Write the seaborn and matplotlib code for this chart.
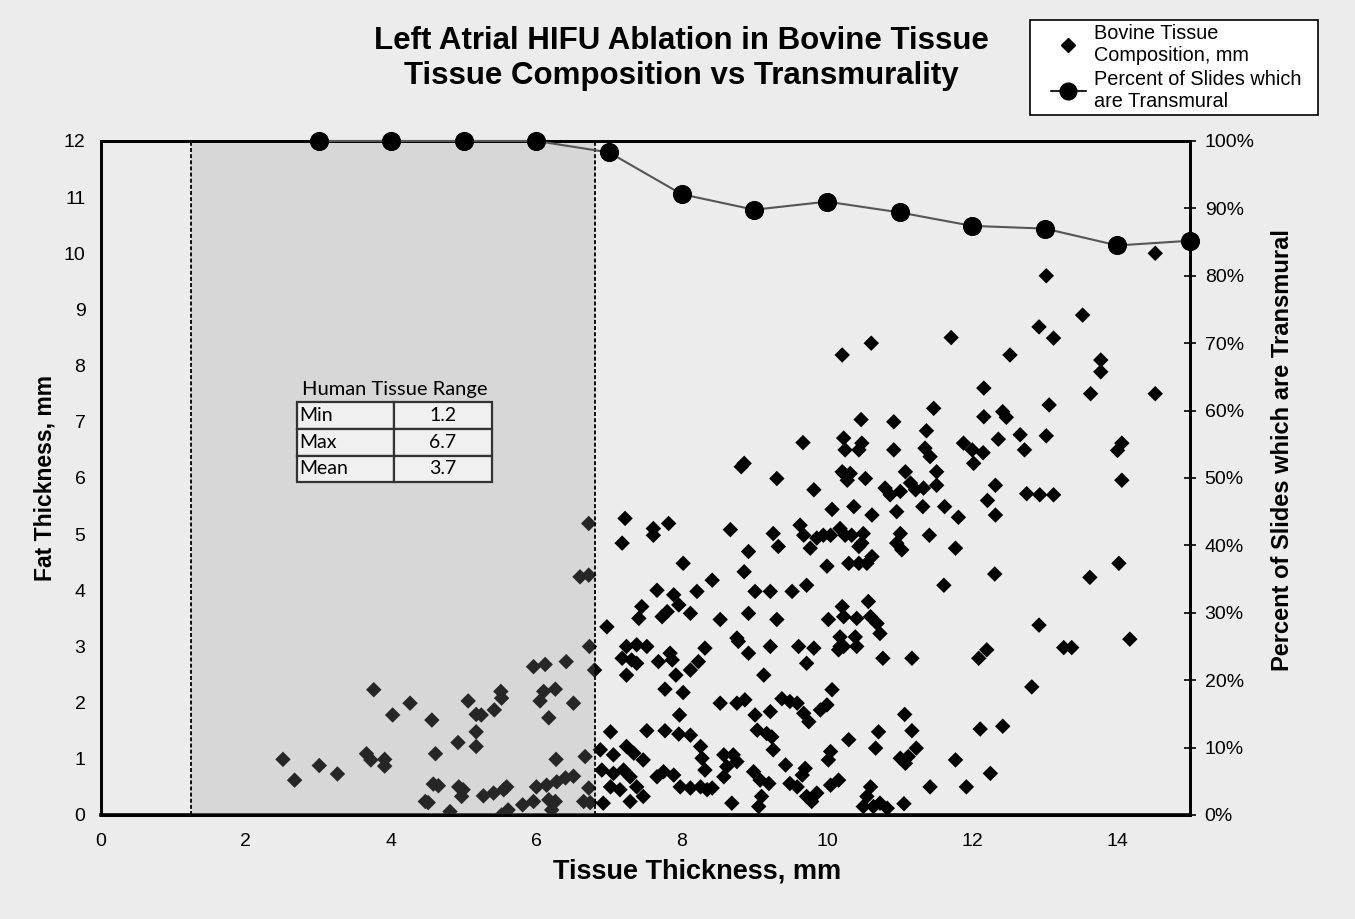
import numpy as np
import pandas as pd
import matplotlib
matplotlib.use("Agg")
import matplotlib.pyplot as plt
import seaborn as sns
from matplotlib.lines import Line2D
from matplotlib.patches import Rectangle
from matplotlib.ticker import PercentFormatter

# ---------------- data ----------------
tissue_x = [
    # inside the human range band
    2.51, 2.67, 3.01, 3.26, 3.66, 3.72, 3.91, 3.91, 3.76, 4.02, 4.26, 4.56, 4.61, 4.58, 4.65,
    4.47, 4.51, 4.81, 4.92, 4.93, 4.99, 4.97, 5.06, 5.17, 5.17, 5.17, 5.24, 5.42, 5.51, 5.52,
    5.27, 5.41, 5.55, 5.59, 5.52, 5.61, 5.81, 5.96, 5.96, 6.12, 6.41, 6.10, 6.26, 6.05, 6.17,
    6.51, 6.73, 6.80, 6.60, 6.72, 6.72, 6.27, 6.00, 6.14, 6.28, 6.40, 6.51, 6.26, 6.21, 6.67,
    6.72, 6.65, 6.74, 6.17,
    # beyond the band
    7.02, 6.97,
    7.24, 7.38, 7.52, 7.18, 7.31, 7.38, 7.68, 7.84, 7.87, 7.24, 8.12, 8.23, 8.32, 7.77, 8.02,
    7.92, 7.97, 7.52, 7.77, 7.96, 8.12, 6.88, 7.06, 7.24, 7.34, 7.47, 6.90, 7.06, 7.20, 7.29,
    7.02, 7.15, 7.38, 7.47, 7.29, 6.92, 7.66, 7.75, 7.89, 7.98, 8.12, 8.26, 8.35, 8.42, 8.26,
    8.28, 8.32, 8.53, 8.76, 8.87, 8.92, 8.78, 9.13, 9.22, 9.01, 9.22, 9.04, 9.17, 9.24, 9.26,
    9.43, 8.58, 8.71, 8.76, 8.62, 8.58, 8.69, 8.99, 9.08, 9.20, 9.06, 9.10, 9.38, 9.49, 9.59,
    9.68, 9.75, 9.61, 9.72, 9.82, 10.07, 10.00, 9.91, 10.05, 10.02, 9.70, 9.66, 9.49, 9.59,
    9.72, 9.86, 9.79, 10.05, 10.16, 10.16, 10.23, 10.30,
    7.22, 7.18, 7.61, 7.61, 7.82, 8.67, 9.31, 9.82, 10.07, 9.26, 9.33, 9.63, 9.68, 9.77, 9.86,
    9.95, 10.05, 10.18, 10.25, 10.23, 8.92, 8.86, 8.02, 8.42, 7.66, 7.89, 7.96, 8.21, 8.12,
    7.45, 7.41, 7.73, 7.80, 8.53, 8.92, 9.01, 9.22, 9.52, 9.72, 9.31, 10.00, 10.02, 10.21,
    10.23, 8.76, 10.18,
    11.47, 10.47, 10.92, 11.37, 9.67, 10.23, 10.25, 10.44, 10.48, 10.92, 11.35, 11.42, 11.88,
    12.00, 12.02, 12.15, 10.21, 10.32, 10.28, 10.53, 11.08, 11.51, 11.51, 10.80, 10.87, 11.01,
    11.15, 11.22, 11.33, 10.37, 10.62, 10.96, 11.32, 11.62, 11.81, 10.34, 10.50, 10.48, 10.44,
    11.01, 10.96, 11.03, 11.41, 11.77, 10.30, 10.44, 10.62, 10.55, 11.61, 10.57, 10.41, 10.60,
    10.69, 10.73, 10.39, 10.18, 10.41,
    10.77, 11.17, 12.09, 12.20, 11.07, 10.71, 10.67, 11.17, 11.23, 11.01, 11.08, 11.12, 12.11,
    11.77, 12.25, 11.42, 11.92, 11.06, 10.60, 10.55, 10.50, 10.64, 10.73, 10.83,
    12.32, 12.75, 12.93, 13.12, 14.06, 12.21, 12.32, 12.31, 13.62, 14.02, 12.92, 13.26, 13.37,
    14.17, 12.82, 12.42,
    14.52, 13.02, 13.52, 12.92, 13.12, 10.21, 10.61, 11.71, 12.52, 13.77, 13.77, 12.16, 13.63,
    14.52, 13.06, 12.16, 12.42, 12.47, 12.36, 12.66, 12.72, 13.02, 14.06, 14.00, 8.82, 8.86,
]

fat_y = [
    0.99, 0.62, 0.88, 0.73, 1.09, 0.98, 0.99, 0.87, 2.23, 1.78, 1.99, 1.69, 1.09, 0.55, 0.52,
    0.24, 0.22, 0.06, 1.29, 0.50, 0.45, 0.33, 2.03, 1.48, 1.22, 1.79, 1.78, 1.87, 2.20, 2.08,
    0.34, 0.39, 0.45, 0.50, 0.00, 0.09, 0.18, 0.24, 2.64, 2.68, 2.73, 2.20, 2.24, 2.03, 1.73,
    1.99, 3.00, 2.58, 4.24, 4.27, 5.19, 0.99, 0.50, 0.53, 0.59, 0.66, 0.69, 0.24, 0.09, 1.04,
    0.48, 0.24, 0.22, 0.27,
    1.48, 3.35,
    3.00, 3.03, 3.00, 2.79, 2.76, 2.70, 2.73, 2.88, 2.76, 2.49, 2.58, 2.73, 2.97, 2.24, 2.18,
    2.49, 1.78, 1.50, 1.50, 1.44, 1.42, 1.16, 1.07, 1.22, 1.10, 0.98, 0.80, 0.74, 0.80, 0.68,
    0.50, 0.45, 0.50, 0.33, 0.24, 0.21, 0.68, 0.77, 0.71, 0.50, 0.48, 0.50, 0.45, 0.48, 1.22,
    1.01, 0.80, 1.99, 1.99, 2.05, 2.88, 3.09, 2.49, 3.00, 1.78, 1.84, 1.51, 1.45, 1.39, 1.16,
    0.89, 1.07, 1.07, 0.95, 0.86, 0.68, 0.21, 0.77, 0.62, 0.56, 0.15, 0.33, 2.07, 2.02, 1.99,
    1.81, 1.66, 3.00, 2.70, 2.97, 2.23, 1.96, 1.87, 1.13, 0.98, 0.83, 0.71, 0.56, 0.50,
    0.33, 0.39, 0.24, 0.53, 0.62, 2.94, 3.00, 1.34,
    5.28, 4.84, 5.10, 4.98, 5.19, 5.08, 5.99, 5.79, 5.44, 5.01, 4.78, 5.16, 4.98, 4.75, 4.93,
    4.98, 4.98, 5.10, 4.98, 6.08, 4.69, 4.33, 4.48, 4.18, 4.00, 3.92, 3.74, 3.98, 3.59,
    3.71, 3.50, 3.53, 3.62, 3.48, 3.59, 3.98, 3.98, 3.98, 4.09, 3.48, 4.43, 3.48, 3.71,
    3.53, 3.15, 3.17,
    7.24, 7.04, 7.00, 6.84, 6.63, 6.71, 6.50, 6.50, 6.62, 6.50, 6.53, 6.38, 6.62,
    6.50, 6.26, 6.45, 6.11, 6.08, 5.96, 5.99, 6.11, 6.11, 5.87, 5.82, 5.70, 5.76,
    5.91, 5.79, 5.82, 5.49, 5.34, 5.40, 5.49, 5.49, 5.30, 4.98, 5.01, 4.84, 4.78,
    5.01, 4.84, 4.72, 4.98, 4.75, 4.48, 4.48, 4.60, 4.48, 4.09, 3.80, 3.50, 3.53,
    3.41, 3.23, 3.17, 3.00, 3.00,
    2.79, 2.79, 2.79, 2.94, 1.79, 1.48, 1.19, 1.50, 1.19, 1.01, 0.92, 1.04, 1.53,
    0.98, 0.74, 0.50, 0.50, 0.20, 0.50, 0.33, 0.15, 0.15, 0.21, 0.12,
    5.87, 5.72, 5.70, 5.70, 5.96, 5.60, 5.34, 4.29, 4.23, 4.48, 3.38, 2.98, 2.98,
    3.13, 2.28, 1.58,
    10.00, 9.60, 8.90, 8.69, 8.49, 8.19, 8.40, 8.50, 8.19, 8.10, 7.89, 7.60, 7.50,
    7.50, 7.30, 7.09, 7.18, 7.08, 6.69, 6.77, 6.50, 6.75, 6.62, 6.49, 6.20, 6.26,
]

pct_x = [3, 4, 5, 6, 7, 8, 9, 10, 11, 12, 13, 14, 15]
pct_transmural = [1.00, 1.00, 1.00, 1.00, 0.983, 0.921, 0.898, 0.910, 0.894, 0.874, 0.870, 0.845, 0.852]

human_range_lo = 1.25
human_range_hi = 6.8
table_rows = [["Min", "1.2"], ["Max", "6.7"], ["Mean", "3.7"]]

x_ticks = [0, 2, 4, 6, 8, 10, 12, 14]
y_ticks = list(range(0, 13))
pct_ticks = [i / 10 for i in range(0, 11)]

# ---------------- style ----------------
BG = "#ececec"
sns.set_theme(style="white")
plt.rcParams["font.family"] = ["Liberation Sans", "DejaVu Sans"]
plt.rcParams["text.color"] = "black"
plt.rcParams["axes.labelcolor"] = "black"
plt.rcParams["xtick.color"] = "black"
plt.rcParams["ytick.color"] = "black"

W, H = 1355, 919
fig = plt.figure(figsize=(W / 100, H / 100), dpi=100, facecolor=BG)
ax = fig.add_axes([0.0743, 0.1132, 0.8040, 0.7334])
ax.set_facecolor(BG)

df = pd.DataFrame({"tissue": tissue_x, "fat": fat_y})
sns.scatterplot(data=df, x="tissue", y="fat", marker="D", s=62, color="black",
                edgecolor="none", linewidth=0, ax=ax, zorder=3, legend=False)

# human tissue range band (semi-transparent, over the points)
ax.axvspan(human_range_lo, human_range_hi, color="#9a9a9a", alpha=0.25, lw=0, zorder=4)
for xv in (human_range_lo, human_range_hi):
    ax.axvline(xv, color="black", ls=(0, (2.2, 1.2)), lw=1.3, zorder=5)

ax.set_xlim(0, 15)
ax.set_ylim(0, 12)
ax.set_xticks(x_ticks)
ax.set_yticks(y_ticks)
ax.tick_params(axis="x", direction="out", length=6, width=1.2, color="black",
               labelsize=14, pad=7)
ax.tick_params(axis="y", length=0, labelsize=14, pad=11)
ax.set_xlabel("Tissue Thickness, mm", fontsize=19.5, fontweight="bold", labelpad=6)
ax.xaxis.label.set_x(0.547)
ax.set_ylabel("Fat Thickness, mm", fontsize=16.5, fontweight="bold", labelpad=5)
for sp in ax.spines.values():
    sp.set_color("black")
    sp.set_linewidth(2)
ax.spines["bottom"].set_linewidth(2.6)

# human tissue range table
tbl = ax.table(cellText=table_rows, cellLoc="center",
               bbox=[0.180, 0.494, 0.179, 0.118], zorder=6)
tbl.auto_set_font_size(False)
tbl.set_fontsize(14)
for (r, c), cell in tbl.get_celld().items():
    cell.set_facecolor("#f0f0f0")
    cell.set_edgecolor("#333333")
    cell.set_linewidth(1.6)
    cell.get_text().set_fontfamily(["Lato", "DejaVu Sans"])
    if c == 0:
        cell.get_text().set_horizontalalignment("left")
        cell.PAD = 0.03
ax.text(4.05, 7.57, "Human Tissue Range", ha="center", va="center", fontsize=14.5,
        family=["Lato", "DejaVu Sans"], zorder=6)

# percent transmural line (right axis)
ax2 = ax.twinx()
sns.lineplot(x=pct_x, y=pct_transmural, ax=ax2, color="#555555", lw=1.5,
             marker="o", markersize=13, markerfacecolor="black",
             markeredgecolor="black", clip_on=False, zorder=7)
ax2.set_ylim(0, 1)
ax2.set_yticks(pct_ticks)
ax2.yaxis.set_major_formatter(PercentFormatter(1.0, decimals=0))
ax2.tick_params(axis="y", direction="inout", length=9, width=1.2, color="black",
                labelsize=14, pad=6)
ax2.set_ylabel("Percent of Slides which are Transmural", fontsize=17,
               fontweight="bold", labelpad=12)
ax2.yaxis.label.set_y(0.5415)
for sp in ax2.spines.values():
    sp.set_color("black")
    sp.set_linewidth(2)

# title
fig.text(0.5026, 0.955, "Left Atrial HIFU Ablation in Bovine Tissue", ha="center",
         va="center", fontsize=22.5, fontweight="bold")
fig.text(0.5026, 0.917, "Tissue Composition vs Transmurality", ha="center",
         va="center", fontsize=22.5, fontweight="bold")

# legend: white box + frameless legend inside it
box = Rectangle((1030 / W, 1 - 115 / H), (1318 - 1030) / W, 95 / H,
                transform=fig.transFigure, facecolor="white", edgecolor="black",
                lw=1.2, zorder=2)
fig.add_artist(box)
handles = [
    Line2D([], [], marker="D", ls="none", color="black", markersize=7),
    Line2D([], [], marker="o", color="#222222", lw=1.5, markerfacecolor="black",
           markeredgecolor="black", markersize=12),
]
labels = ["Bovine Tissue\nComposition, mm", "Percent of Slides which\nare Transmural"]
leg = fig.legend(handles, labels, loc="upper left", bbox_to_anchor=(1045 / W, 0.980),
                 frameon=False, fontsize=14.3, handlelength=1.75, handletextpad=0.4,
                 borderaxespad=0, labelspacing=0.25, borderpad=0.3)
leg.set_zorder(3)

fig.savefig("out.png", dpi=100, facecolor=BG)
